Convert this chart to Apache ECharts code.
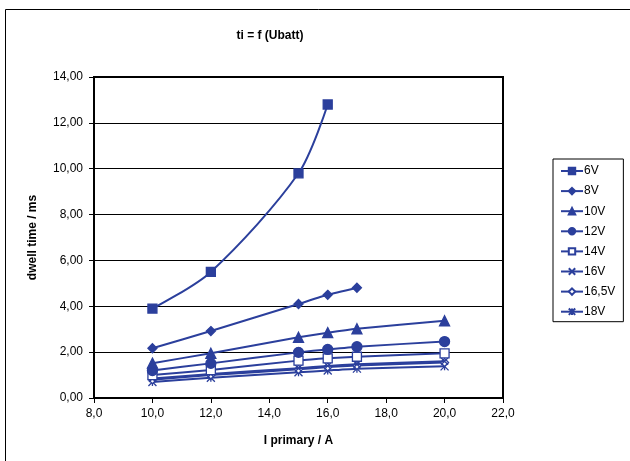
<!DOCTYPE html>
<html>
<head>
<meta charset="utf-8">
<script src="https://cdn.jsdelivr.net/npm/echarts@6/dist/echarts.min.js"></script>
<style>html,body{margin:0;padding:0;background:#fff;}#c{width:630px;height:461px;}</style>
</head>
<body>
<div id="c"></div>
<script>
const seriesNames = ['6V','8V','10V','12V','14V','16V','16,5V','18V'];
const xValues = [10, 12, 15, 16, 17, 20];
const v6   = [3.9, 5.5, 9.8, 12.8];
const v8   = [2.17, 2.92, 4.1, 4.5, 4.81];
const v10  = [1.52, 1.95, 2.65, 2.85, 3.02, 3.37];
const v12  = [1.2, 1.51, 1.99, 2.12, 2.24, 2.46];
const v14  = [1.0, 1.22, 1.63, 1.73, 1.8, 1.95];
const v16  = [0.85, 1.05, 1.3, 1.4, 1.47, 1.6];
const v165 = [0.8, 1.0, 1.25, 1.35, 1.42, 1.55];
const v18  = [0.7, 0.88, 1.12, 1.2, 1.28, 1.38];
const yTickLabels = ['0,00','2,00','4,00','6,00','8,00','10,00','12,00','14,00'];
const xTickLabels = ['8,0','10,0','12,0','14,0','16,0','18,0','20,0','22,0'];

const allValues = [v6, v8, v10, v12, v14, v16, v165, v18];
const C = '#2B3F9C';
const FONT = 'Liberation Sans, Arial, sans-serif';
const symbols = [
  {symbol:'rect', size:9, fill:C},
  {symbol:'diamond', size:9, fill:C},
  {symbol:'triangle', size:10, fill:C},
  {symbol:'circle', size:10, fill:C},
  {symbol:'rect', size:9, fill:'#fff'},
  {symbol:'path://M0,0L10,10M10,0L0,10', size:7, fill:C},
  {symbol:'diamond', size:8, fill:'#fff'},
  {symbol:'path://M0,0L10,10M10,0L0,10M5,0L5,10', size:8, fill:C}
];

const series = seriesNames.map((name, i) => ({
  name: name,
  type: 'line',
  smooth: i === 0 ? 0.3 : 0.15,
  data: allValues[i].map((v, j) => [xValues[j], v]),
  symbol: symbols[i].symbol,
  symbolSize: symbols[i].size,
  lineStyle: {color: C, width: 2},
  itemStyle: {color: symbols[i].fill, borderColor: C, borderWidth: 1.3},
  z: 10 - i
}));

const chart = echarts.init(document.getElementById('c'), null, {renderer: 'canvas'});
chart.setOption({
  animation: false,
  backgroundColor: '#fff',
  textStyle: {fontFamily: FONT},
  title: {
    text: 'ti = f (Ubatt)',
    left: 265, top: 25, textAlign: 'center',
    textStyle: {fontSize: 12, fontWeight: 'bold', color: '#000', fontFamily: FONT}
  },
  graphic: [{
    type: 'rect', silent: true,
    shape: {x: 5.5, y: 9.5, width: 700, height: 600},
    style: {fill: 'none', stroke: '#000', lineWidth: 1}
  }],
  grid: {left: 94, right: 127, top: 77, bottom: 63, show: true, borderColor: '#000', borderWidth: 2, backgroundColor: 'transparent'},
  legend: {
    orient: 'vertical', left: 553, top: 159,
    padding: [6, 8, 4, 7],
    itemWidth: 22, itemHeight: 8, itemGap: 8.1,
    borderColor: '#000', borderWidth: 1,
    textStyle: {fontSize: 12, color: '#000', fontFamily: FONT, padding: [0,0,0,-4]},
    data: seriesNames
  },
  xAxis: {
    type: 'value', min: 8, max: 22, interval: 2,
    name: 'I primary / A', nameLocation: 'middle', nameGap: 37,
    nameTextStyle: {fontSize: 12, fontWeight: 'bold', color: '#000', fontFamily: FONT},
    axisLine: {show: true, lineStyle: {color: '#000', width: 2}},
    axisTick: {show: true, length: 5, lineStyle: {color: '#000'}},
    axisLabel: {fontSize: 12, color: '#000', margin: 10, fontFamily: FONT,
      formatter: v => xTickLabels[Math.round((v - 8) / 2)]},
    splitLine: {show: false}
  },
  yAxis: {
    type: 'value', min: 0, max: 14, interval: 2,
    name: 'dwell time / ms', nameLocation: 'middle', nameGap: 55,
    nameTextStyle: {fontSize: 12, fontWeight: 'bold', color: '#000', fontFamily: FONT},
    axisLine: {show: true, lineStyle: {color: '#000', width: 2}},
    axisTick: {show: true, length: 5, lineStyle: {color: '#000'}},
    axisLabel: {fontSize: 12, color: '#000', margin: 11, fontFamily: FONT,
      formatter: v => yTickLabels[Math.round(v / 2)]},
    splitLine: {show: true, lineStyle: {color: '#000', width: 1}}
  },
  series: series
});
</script>
</body>
</html>
